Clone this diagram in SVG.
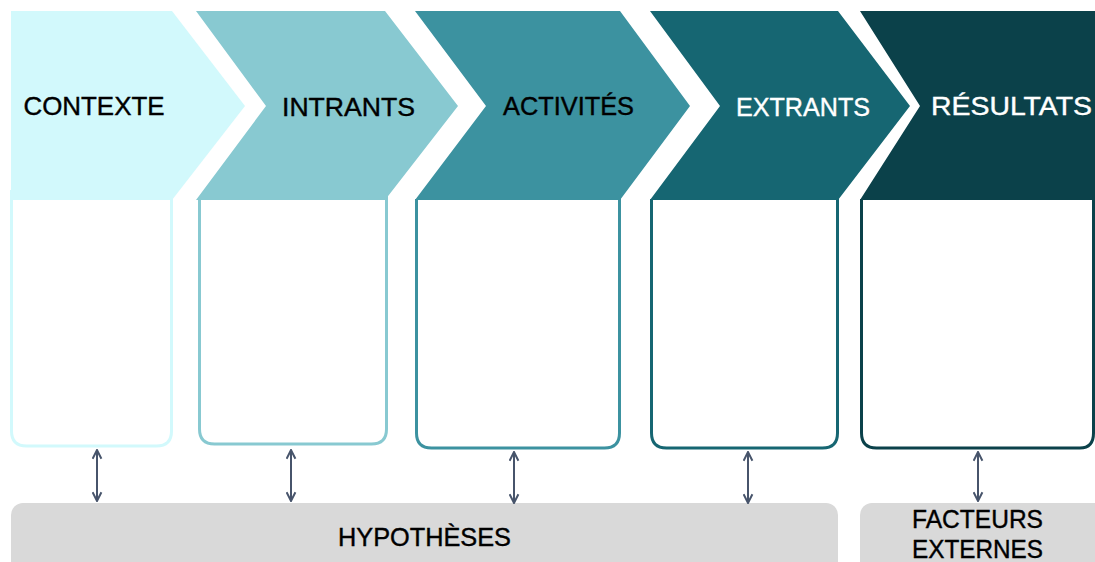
<svg xmlns="http://www.w3.org/2000/svg" width="1095" height="562" viewBox="0 0 1095 562">
<defs>
<style>
.lbl{font-family:"Liberation Sans",Arial,sans-serif;font-size:26px;text-anchor:middle;stroke-width:0.4}
.dark{fill:#000;stroke:#000}
.light{fill:#fff;stroke:#fff}
.box{fill:#fff;stroke-width:3}
.bar{fill:#d9d9d9}
.conn{stroke:#47546b;stroke-width:2;fill:none;marker-start:url(#ah);marker-end:url(#ah)}
</style>
<marker id="ah" viewBox="0 0 10 10" refX="9" refY="5" markerWidth="5.5" markerHeight="5.5" orient="auto-start-reverse" markerUnits="strokeWidth">
<path d="M1,1 L9,5 L1,9" fill="none" stroke="#47546b" stroke-width="1.8" stroke-linejoin="miter"/>
</marker>
</defs>
<rect width="1095" height="562" fill="#fff"/>
<g id="contexte">
<path class="box" d="M11.5,190 V431 Q11.5,446 26.5,446 H156.5 Q171.5,446 171.5,431 V190" stroke="#d2f9fc"/>
<path d="M11,11 L172,11 L245,106 L172,200 L11,200 Z" fill="#d2f9fc"/>
<text class="lbl dark" x="94" y="115" textLength="141" lengthAdjust="spacingAndGlyphs">CONTEXTE</text>
</g>
<g id="intrants">
<path class="box" d="M199.5,199 V429 Q199.5,444 214.5,444 H371.5 Q386.5,444 386.5,429 V190" stroke="#88c9d1"/>
<path d="M196,11 L385,11 L458,106 L385,200 L196,200 L266,106 Z" fill="#88c9d1"/>
<text class="lbl dark" x="348.5" y="116" textLength="133" lengthAdjust="spacingAndGlyphs">INTRANTS</text>
</g>
<g id="activites">
<path class="box" d="M416.5,199 V433 Q416.5,448 431.5,448 H604.5 Q619.5,448 619.5,433 V190" stroke="#3c92a0"/>
<path d="M415,11 L620,11 L690,106 L620,200 L415,200 L486,106 Z" fill="#3c92a0"/>
<text class="lbl dark" x="568.5" y="115" textLength="131" lengthAdjust="spacingAndGlyphs">ACTIVITÉS</text>
</g>
<g id="extrants">
<path class="box" d="M651.5,199 V433 Q651.5,448 666.5,448 H822.5 Q837.5,448 837.5,433 V190" stroke="#166672"/>
<path d="M650,11 L838,11 L910,106 L838,200 L650,200 L720,106 Z" fill="#166672"/>
<text class="lbl light" x="803" y="116" textLength="134" lengthAdjust="spacingAndGlyphs">EXTRANTS</text>
</g>
<g id="resultats">
<path class="box" d="M861.5,199 V433 Q861.5,448 876.5,448 H1080 Q1093.5,448 1093.5,433 V190" stroke="#0b414a"/>
<path d="M860,11 L1095,11 L1095,200 L860,200 L920,106 Z" fill="#0b414a"/>
<text class="lbl light" x="1011.5" y="115" textLength="161" lengthAdjust="spacingAndGlyphs">RÉSULTATS</text>
</g>
<g id="hypotheses">
<rect class="bar" x="11" y="503" width="827" height="80" rx="12"/>
<text class="lbl dark" x="424.5" y="546" textLength="173" lengthAdjust="spacingAndGlyphs">HYPOTHÈSES</text>
</g>
<g id="facteurs-externes">
<rect class="bar" x="860" y="503" width="250" height="80" rx="12"/>
<text class="lbl dark" x="977.5" y="528" textLength="131" lengthAdjust="spacingAndGlyphs">FACTEURS</text>
<text class="lbl dark" x="977.5" y="558" textLength="131" lengthAdjust="spacingAndGlyphs">EXTERNES</text>
</g>
<g id="connectors">
<line class="conn" x1="97" y1="450" x2="97" y2="501"/>
<line class="conn" x1="291" y1="450" x2="291" y2="501"/>
<line class="conn" x1="514" y1="452" x2="514" y2="503"/>
<line class="conn" x1="748" y1="452" x2="748" y2="503"/>
<line class="conn" x1="978" y1="452" x2="978" y2="501"/>
</g>
</svg>
